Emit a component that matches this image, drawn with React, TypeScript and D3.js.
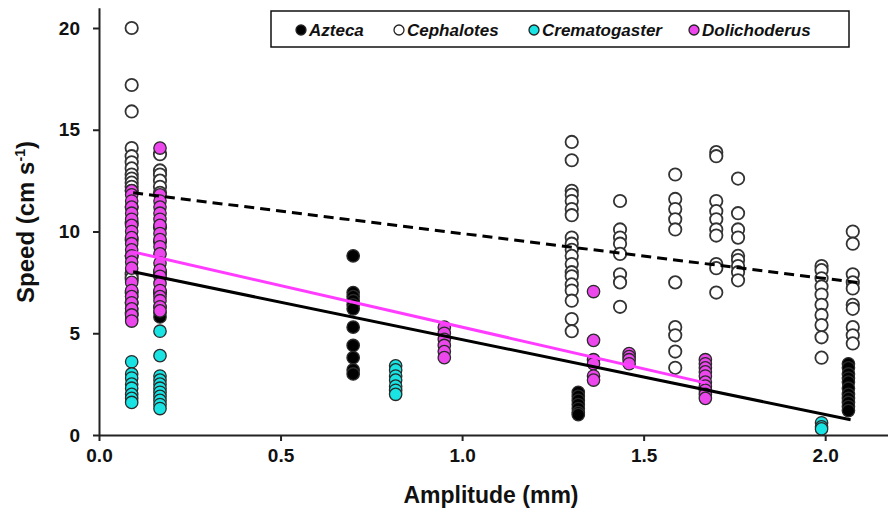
import React, { useRef, useEffect } from 'react';
import * as d3 from 'd3';

// amplitude (mm) of each column, and the speeds (cm/s) recorded there
const aztecaAmps = [0.09, 0.168, 0.70, 1.32, 2.064];
const aztecaSpeeds = [
  [8.0, 7.6, 6.8, 6.2, 5.9, 5.7],
  [7.9, 7.0, 6.3, 6.0, 5.8],
  [8.8, 7.0, 6.8, 6.6, 6.4, 6.2, 5.3, 4.4, 3.8, 3.2, 3.0],
  [2.1, 1.9, 1.7, 1.5, 1.3, 1.1, 1.0],
  [3.5, 3.3, 3.0, 2.8, 2.6, 2.3, 2.0, 1.8, 1.6, 1.4, 1.2],
];

const cephalotesAmps = [0.09, 0.168, 1.302, 1.435, 1.587, 1.70, 1.76, 1.99, 2.076];
const cephalotesSpeeds = [
  [20.0, 17.2, 15.9, 14.1, 13.7, 13.4, 13.1, 12.8, 12.6, 12.4, 12.2, 12.0, 11.2, 10.4, 9.6, 8.8, 7.9, 7.7, 7.0, 6.5, 6.0],
  [13.8, 13.0, 12.8, 12.5, 12.2, 11.9, 10.2, 9.5, 8.0, 7.0],
  [14.4, 13.5, 12.0, 11.8, 11.5, 11.1, 10.8, 9.7, 9.4, 9.1, 8.8, 8.4, 8.0, 7.8, 7.4, 7.1, 6.6, 5.7, 5.1],
  [11.5, 10.1, 9.7, 9.4, 8.9, 7.9, 7.5, 6.3],
  [12.8, 11.6, 11.1, 10.6, 10.1, 7.5, 5.3, 4.9, 4.1, 3.3],
  [13.9, 13.7, 11.5, 11.0, 10.6, 10.1, 9.8, 8.4, 8.2, 7.0],
  [12.6, 10.9, 10.1, 9.7, 8.8, 8.6, 8.3, 8.0, 7.6],
  [8.3, 8.1, 7.7, 7.3, 6.9, 6.4, 5.9, 5.4, 4.8, 3.8],
  [10.0, 9.4, 7.9, 7.5, 7.2, 6.4, 6.2, 5.3, 4.9, 4.5],
];

const crematogasterAmps = [0.09, 0.168, 0.817, 1.99];
const crematogasterSpeeds = [
  [3.6, 3.0, 2.8, 2.5, 2.3, 2.0, 1.8, 1.6],
  [5.1, 3.9, 2.9, 2.7, 2.5, 2.3, 2.1, 1.9, 1.7, 1.5, 1.3],
  [3.4, 3.2, 2.9, 2.7, 2.4, 2.2, 2.0],
  [0.6, 0.4, 0.3],
];

const dolichoderusAmps = [0.09, 0.168, 0.951, 1.362, 1.46, 1.67];
const dolichoderusSpeeds = [
  [12.0, 11.8, 11.5, 11.2, 10.9, 10.6, 10.3, 10.0, 9.7, 9.4, 9.1, 8.8, 8.5, 8.2, 7.5, 7.1, 6.8, 6.5, 6.2, 5.9, 5.6],
  [14.1, 11.8, 11.5, 11.2, 10.9, 10.6, 10.3, 9.9, 9.6, 9.25, 8.9, 8.45, 8.1, 7.8, 7.45, 7.1, 6.8, 6.6, 6.3, 6.1],
  [5.3, 5.0, 4.7, 4.4, 4.1, 3.8],
  [7.05, 4.65, 3.7, 3.5, 2.9, 2.7],
  [4.0, 3.85, 3.7, 3.5],
  [3.7, 3.5, 3.3, 3.1, 2.9, 2.6, 2.4, 2.2, 2.0, 1.8],
];

// regression lines: end points (amplitude, speed)
const fitAmps = { Azteca: [0.094, 2.07], Cephalotes: [0.094, 2.09], Dolichoderus: [0.094, 1.67] };
const fitSpeeds = { Azteca: [8.02, 0.75], Cephalotes: [11.9, 7.49], Dolichoderus: [9.0, 2.56] };

const speciesNames = ['Azteca', 'Cephalotes', 'Crematogaster', 'Dolichoderus'];
const speciesFill: Record<string, string> = {
  Azteca: '#000000',
  Cephalotes: '#ffffff',
  Crematogaster: '#19e3e3',
  Dolichoderus: '#ec47ec',
};

const xTicks = [0, 0.5, 1.0, 1.5, 2.0];
const yTicks = [0, 5, 10, 15, 20];

const W = 888;
const H = 512;
const font = '"Liberation Sans", Arial, sans-serif';

const flatten = (amps: number[], speeds: number[][]) =>
  amps.flatMap((a, i) => speeds[i].map(s => ({ amp: a, speed: s })));

const App: React.FC = () => {
  const svgRef = useRef<SVGSVGElement | null>(null);

  useEffect(() => {
    document.body.style.margin = '0';
    const svg = d3.select(svgRef.current);
    svg.selectAll('*').remove();

    const x = d3.scaleLinear().domain([0, 2.173]).range([99, 888]);
    const y = d3.scaleLinear().domain([0, 20]).range([435, 28]);

    const points: Record<string, { amp: number; speed: number }[]> = {
      Azteca: flatten(aztecaAmps, aztecaSpeeds),
      Cephalotes: flatten(cephalotesAmps, cephalotesSpeeds),
      Crematogaster: flatten(crematogasterAmps, crematogasterSpeeds),
      Dolichoderus: flatten(dolichoderusAmps, dolichoderusSpeeds),
    };

    // points
    speciesNames.forEach(sp => {
      svg.append('g')
        .selectAll('circle')
        .data(points[sp])
        .enter()
        .append('circle')
        .attr('cx', d => x(d.amp))
        .attr('cy', d => y(d.speed))
        .attr('r', 6.2)
        .attr('fill', speciesFill[sp])
        .attr('stroke', sp === 'Cephalotes' ? '#333' : '#2a2a2a')
        .attr('stroke-width', sp === 'Cephalotes' ? 1.8 : 1.3);
    });

    // fit lines
    const line = d3.line<[number, number]>().x(d => x(d[0])).y(d => y(d[1]));
    const fitStyle: Record<string, { color: string; dash: string | null }> = {
      Cephalotes: { color: '#000', dash: '10,6' },
      Dolichoderus: { color: '#ff3cff', dash: null },
      Azteca: { color: '#000', dash: null },
    };
    (['Cephalotes', 'Dolichoderus', 'Azteca'] as const).forEach(sp => {
      const pts: [number, number][] = fitAmps[sp].map((a, i) => [a, fitSpeeds[sp][i]]);
      svg.append('path')
        .attr('d', line(pts))
        .attr('fill', 'none')
        .attr('stroke', fitStyle[sp].color)
        .attr('stroke-width', 3)
        .attr('stroke-dasharray', fitStyle[sp].dash);
    });

    // axes
    const xAxis = d3.axisBottom(x)
      .tickValues(xTicks)
      .tickFormat(d3.format('.1f'))
      .tickSize(6)
      .tickSizeOuter(0)
      .tickPadding(8);
    const gx = svg.append('g').attr('transform', 'translate(0,435)').call(xAxis);

    const yAxis = d3.axisLeft(d3.scaleLinear().domain([0, 21]).range([435, 435 - 21 * 20.35]))
      .tickValues(yTicks)
      .tickSize(6)
      .tickSizeOuter(0)
      .tickPadding(13);
    const gy = svg.append('g').attr('transform', 'translate(99,0)').call(yAxis);

    [gx, gy].forEach(g => {
      g.select('.domain').attr('stroke', '#222').attr('stroke-width', 2);
      g.selectAll('.tick line').attr('stroke', '#222').attr('stroke-width', 2);
      g.selectAll('.tick text')
        .attr('fill', '#111')
        .style('font-family', font)
        .style('font-weight', 'bold')
        .style('font-size', '19px');
    });

    // axis titles
    svg.append('text')
      .attr('x', 491)
      .attr('y', 503)
      .attr('text-anchor', 'middle')
      .style('font-family', font)
      .style('font-weight', 'bold')
      .style('font-size', '23px')
      .attr('fill', '#111')
      .text('Amplitude (mm)');

    const yt = svg.append('text')
      .attr('transform', 'translate(34,222) rotate(-90)')
      .attr('text-anchor', 'middle')
      .style('font-family', font)
      .style('font-weight', 'bold')
      .style('font-size', '24px')
      .attr('fill', '#111');
    yt.append('tspan').text('Speed (cm s');
    yt.append('tspan').attr('dy', -9).style('font-size', '14px').text('-1');
    yt.append('tspan').attr('dy', 9).text(')');

    // legend
    const lg = svg.append('g');
    lg.append('rect')
      .attr('x', 271).attr('y', 11).attr('width', 578).attr('height', 36)
      .attr('fill', '#fff').attr('stroke', '#111').attr('stroke-width', 1.5);
    const legendX = [301, 399, 534, 694];
    speciesNames.forEach((sp, i) => {
      lg.append('circle')
        .attr('cx', legendX[i]).attr('cy', 30).attr('r', 5)
        .attr('fill', speciesFill[sp]).attr('stroke', '#222').attr('stroke-width', 1.3);
      lg.append('text')
        .attr('x', legendX[i] + 8).attr('y', 36)
        .style('font-family', font)
        .style('font-weight', 'bold')
        .style('font-style', 'italic')
        .style('font-size', '17px')
        .attr('fill', '#111')
        .text(sp);
    });
  }, []);

  return <svg ref={svgRef} width={W} height={H} style={{ display: 'block', background: '#fff' }}></svg>;
};

export default App;
